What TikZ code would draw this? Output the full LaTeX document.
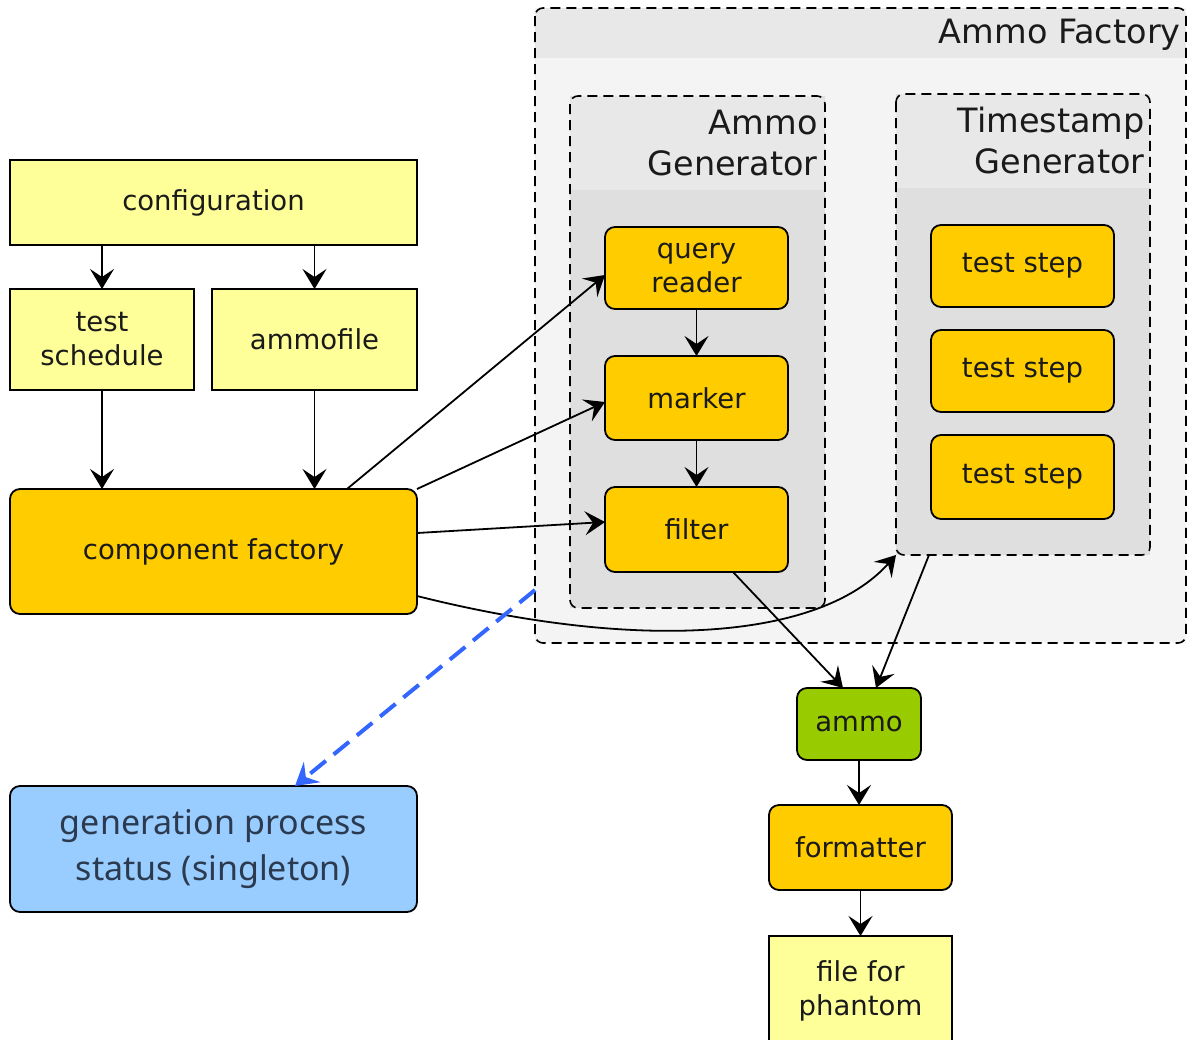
\documentclass[tikz,border=0pt]{standalone}
\usepackage{fontspec}
\setmainfont{DejaVu Sans}
\newfontfamily\blfont{Noto Sans}
\usetikzlibrary{arrows.meta,calc}
\definecolor{lyel}{HTML}{FFFF99}
\definecolor{orng}{HTML}{FFCC00}
\definecolor{grn}{HTML}{99CC00}
\definecolor{lblue}{HTML}{99CCFF}
\definecolor{bodyA}{HTML}{F4F4F4}
\definecolor{hdrA}{HTML}{E8E8E8}
\definecolor{bodyG}{HTML}{DFDFDF}
\definecolor{dashblue}{HTML}{3366FF}
\definecolor{txtdark}{HTML}{1A1A1A}
\definecolor{bltxt}{HTML}{2B3A4E}
\begin{document}
\begin{tikzpicture}[x=0.5pt,y=-0.5pt,
  box/.style={draw=black, line width=0.9pt, outer sep=0pt, inner sep=0pt, align=center,
    text=txtdark, font=\fontsize{13.75}{17}\selectfont},
  plainbox/.style={box, fill=lyel},
  roundbox/.style={box, fill=orng, rounded corners=5pt},
  greenbox/.style={box, fill=grn, rounded corners=5pt},
  bluebox/.style={box, fill=lblue, rounded corners=5pt, text=bltxt, font=\blfont\fontsize{17}{23}\selectfont},
  contnode/.style={draw=none, outer sep=0pt, inner sep=0pt},
  contborder/.style={draw=black, line width=0.8pt, dash pattern=on 5pt off 3pt, rounded corners=4pt},
  conttitle/.style={inner sep=0pt, align=right, text=txtdark, font=\fontsize{16.75}{20.5}\selectfont},
  arr/.style={draw=black, line width=0.9pt, -{Stealth[length=10pt, width=12pt, inset=4pt]}},
  bluearr/.style={draw=dashblue, line width=2pt, dash pattern=on 10pt off 5pt,
    -{Stealth[length=11pt, width=13pt, inset=4pt]}}
]
\useasboundingbox (0,0) rectangle (1188,1039);
\fill[white] (0,0) rectangle (1188,1039);

% ---------- containers ----------
\node[contnode, fill=bodyA, minimum width=325.5pt, minimum height=317.5pt] (AF) at (860.5,325.5) {};
\begin{scope}
  \clip[rounded corners=4pt] (AF.north west) rectangle (AF.south east);
  \fill[hdrA] (AF.north west) rectangle ([yshift=-25pt]AF.north east);
\end{scope}
\draw[contborder] (AF.north west) rectangle (AF.south east);
\node[conttitle, anchor=east] (AFt) at (1181,35) {Ammo Factory};

\node[contnode, fill=bodyG, minimum width=127.5pt, minimum height=256pt] (AG) at (697.5,352) {};
\begin{scope}
  \clip[rounded corners=4pt] (AG.north west) rectangle (AG.south east);
  \fill[hdrA] (AG.north west) rectangle ([yshift=-47pt]AG.north east);
\end{scope}
\draw[contborder] (AG.north west) rectangle (AG.south east);
\node[conttitle, anchor=east] (AGt) at (818,143) {Ammo\\Generator};

\node[contnode, fill=bodyG, minimum width=127pt, minimum height=230.5pt] (TG) at (1023,324.5) {};
\begin{scope}
  \clip[rounded corners=4pt] (TG.north west) rectangle (TG.south east);
  \fill[hdrA] (TG.north west) rectangle ([yshift=-47pt]TG.north east);
\end{scope}
\draw[contborder] (TG.north west) rectangle (TG.south east);
\node[conttitle, anchor=east] (TGt) at (1145,141) {Timestamp\\Generator};

% ---------- boxes ----------
\node[plainbox, minimum width=203.5pt, minimum height=42.5pt] (conf) at (213.5,202.5) {configuration};
\node[plainbox, minimum width=92pt, minimum height=50.5pt] (ts) at (102,339.5) {test\\schedule};
\node[plainbox, minimum width=102.5pt, minimum height=50.5pt] (am) at (314.5,339.5) {ammofile};
\node[roundbox, minimum width=203.5pt, minimum height=62.5pt] (cf) at (213.5,551.5) {component factory};

\node[roundbox, minimum width=91.5pt, minimum height=41pt] (qr) at (696.5,268) {query\\reader};
\node[roundbox, minimum width=91.5pt, minimum height=42pt] (mk) at (696.5,398) {marker};
\node[roundbox, minimum width=91.5pt, minimum height=42.5pt] (fl) at (696.5,529.5) {filter};

\node[roundbox, minimum width=91.5pt, minimum height=41pt] (tsa) at (1022.5,266) {test step};
\node[roundbox, minimum width=91.5pt, minimum height=41pt] (tsb) at (1022.5,371) {test step};
\node[roundbox, minimum width=91.5pt, minimum height=42pt] (tsc) at (1022.5,477) {test step};

\node[greenbox, minimum width=62pt, minimum height=36pt] (ammo) at (859,724) {ammo};
\node[roundbox, minimum width=91.5pt, minimum height=42.5pt] (fmt) at (860.5,847.5) {formatter};
\node[plainbox, minimum width=91.5pt, minimum height=54.5pt] (file) at (860.5,990.5) {file for\\phantom};

\node[bluebox, minimum width=203.5pt, minimum height=63pt] (gps) at (213.5,849) {generation process\\status (singleton)};

% ---------- connectors ----------
\draw[arr] (ts.north |- conf.south) -- (ts.north);
\draw[arr] (am.north |- conf.south) -- (am.north);
\draw[arr] (ts.south) -- (ts.south |- cf.north);
\draw[arr] (am.south) -- (am.south |- cf.north);

\draw[arr] ([xshift=-35pt]cf.north east) -- ([yshift=-3.5pt]qr.west);
\draw[arr] (cf.north east) -- ([yshift=-2pt]mk.west);
\draw[arr] ([yshift=9.25pt]cf.east) -- ([yshift=3.75pt]fl.west);
\draw[arr] ([yshift=-22.25pt]cf.east) .. controls (640,652) and (820,640) .. (TG.south west);

\draw[arr] (qr.south) -- (mk.north);
\draw[arr] (mk.south) -- (fl.north);

\draw[arr] ([xshift=18.25pt]fl.south) -- ([xshift=-8pt]ammo.north);
\draw[arr] ([xshift=16.5pt]TG.south west) -- ([xshift=8.5pt]ammo.north);
\draw[arr] (ammo.south) -- (ammo.south |- fmt.north);
\draw[arr] (fmt.south) -- (fmt.south |- file.north);

\draw[bluearr] ([yshift=26.5pt]AF.south west) -- ([xshift=40.75pt]gps.north);
\end{tikzpicture}
\end{document}
